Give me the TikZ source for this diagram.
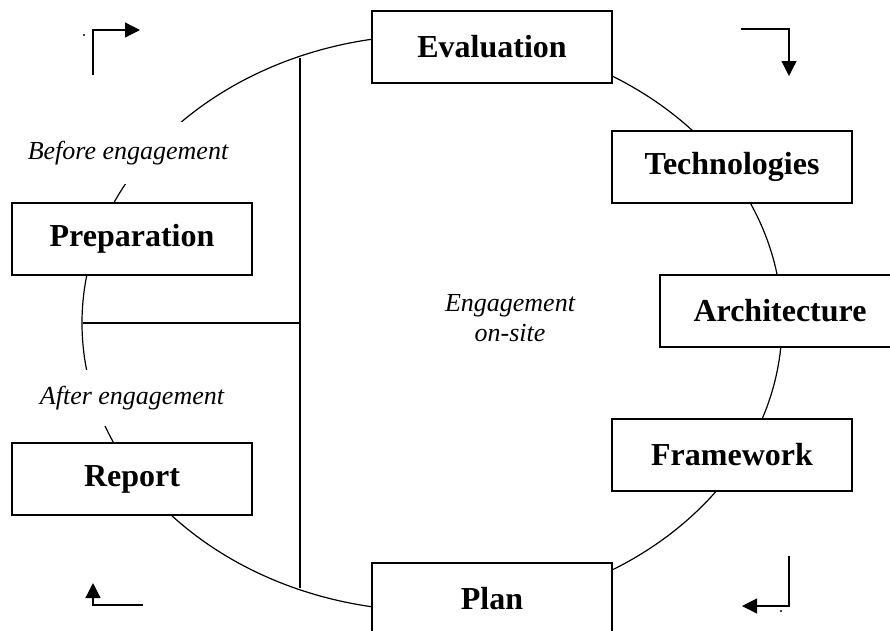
\documentclass[tikz,border=0pt]{standalone}
\usepackage{fontspec}
\setmainfont{Liberation Serif}
\usetikzlibrary{arrows.meta}

\tikzstyle{line} = [line width=1.2pt]
\tikzstyle{box} = [draw, line width=1.8pt, fill=white, minimum width=240pt, minimum height=72pt, font=\fontsize{32}{38}\selectfont\bfseries]
\tikzstyle{lbl} = [fill=white, inner sep=3pt, font=\fontsize{26}{30}\selectfont\itshape]
\tikzstyle{arw} = [line width=1.2pt, -{Triangle[length=15pt,width=15pt]}]

\begin{document}
\begin{tikzpicture}[x=1pt,y=-1pt]
\useasboundingbox (0,0) rectangle (890,630);
\clip (0,0) rectangle (890,630);

% cycle
\draw [line] (432,323) ellipse (350 and 288);

% divider
\coordinate (vtop) at (300,58);
\coordinate (vbot) at (300,588);
\coordinate (hleft) at (83,323);
\coordinate (hright) at (300,323);
\draw [line] (vtop) -- (vbot);
\draw [line] (hleft) -- (hright);

% phases
\node [lbl, minimum height=62pt] (before) at (128,153) {Before engagement};
\node [lbl, minimum height=56pt] (after) at (132,398) {After engagement};
\node [lbl, fill=none, align=center] (onsite) at (510,318) {Engagement\\on-site};

% steps
\node [box] (eval) at (492,47) {Evaluation};
\node [box] (tech) at (732,167) {Technologies};
\node [box] (arch) at (780,311) {Architecture};
\node [box] (frame) at (732,455) {Framework};
\node [box] (plan) at (492,599) {Plan};
\node [box] (prep) at (132,239) {Preparation};
\node [box] (report) at (132,479) {Report};

% corner arrows
\coordinate (tl) at (93,75);
\coordinate (tlend) at (140,30);
\coordinate (tr) at (741,29);
\coordinate (trend) at (789,76);
\coordinate (bl) at (143,605);
\coordinate (blend) at (93,583);
\coordinate (br) at (789,556);
\coordinate (brend) at (742,606);
\draw [arw] (tl) |- (tlend);
\draw [arw] (tr) -| (trend);
\draw [arw] (bl) -| (blend);
\draw [arw] (br) |- (brend);
\fill (84,35) circle (1.2pt);
\fill (781,611) circle (1.2pt);

\end{tikzpicture}
\end{document}
